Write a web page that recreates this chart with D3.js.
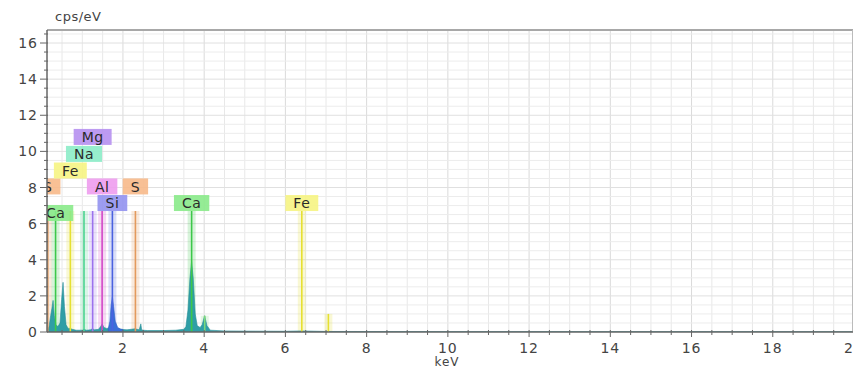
<!DOCTYPE html>
<html><head><meta charset="utf-8">
<script src="https://cdn.jsdelivr.net/npm/d3@7/dist/d3.min.js"></script>
<style>
body{margin:0;background:#fff;}
svg{display:block;}
text{font-family:"DejaVu Sans",Verdana,sans-serif;}
</style></head>
<body><svg id="c" width="853" height="370"></svg>
<script>
// ---- data ----
const xTicks = [2,4,6,8,10,12,14,16,18,20];
const yTicks = [0,2,4,6,8,10,12,14,16];
const xLabel = "keV";
const yLabel = "cps/eV";

// spectrum (keV, cps/eV)
const specE = [0.13,0.18,0.22,0.25,0.28,0.31,0.35,0.40,0.45,0.49,0.525,0.56,0.60,0.65,0.70,0.75,0.85,1.00,1.04,1.10,1.20,1.25,1.30,1.40,1.45,1.49,1.53,1.60,1.66,2.00,2.10,2.20,2.30,2.40,2.44,2.46,2.50,2.60,3.00,3.30,3.50,3.55,3.60,3.65,3.69,3.73,3.78,3.83,3.90,3.95,4.01,4.07,4.15,4.50,5.00,6.00,6.40,7.00,10.0,20.0];
const specC = [0.00,0.30,0.90,1.30,1.75,0.90,0.40,0.30,0.50,1.80,2.75,1.40,0.40,0.20,0.20,0.15,0.10,0.10,0.15,0.10,0.12,0.18,0.12,0.15,0.30,0.45,0.25,0.20,0.22,0.14,0.12,0.15,0.18,0.12,0.45,0.12,0.10,0.08,0.08,0.10,0.15,0.30,1.20,3.00,3.90,3.00,1.00,0.35,0.25,0.40,0.90,0.35,0.10,0.06,0.05,0.04,0.06,0.03,0.02,0.01];
// Si peak (drawn in its own colour)
const siE = [1.64,1.68,1.71,1.74,1.77,1.81,1.87,1.95,2.00];
const siC = [0.20,0.60,1.50,1.95,1.40,0.60,0.25,0.15,0.14];

// element marker lines
const markName  = ["S","Ca","Fe","Na","Mg","Al","Si","S","Ca","Ca","Fe","Fe"];
const markE     = [0.149,0.341,0.705,1.041,1.254,1.487,1.740,2.307,3.691,4.013,6.404,7.058];
const markTop   = [6.7,6.7,6.7,6.7,6.7,6.7,6.7,6.7,6.7,0.9,6.7,1.0];
const markLabel = [8.06,6.59,8.94,9.86,10.8,8.06,7.14,8.06,7.14,null,7.14,null];
const markLine  = ["#e39a5c","#3cc84a","#e6e030","#4cd490","#9c72ee","#d448c8","#4a62e0","#e39a5c","#3cc84a","#7ad87a","#e6e030","#e6e030"];
const markBox   = ["#f7b98a","#8aea8a","#f6f483","#8cecc8","#b690f0","#ee9cee","#9292f0","#f7b98a","#8aea8a",null,"#f6f483",null];

// ---- layout ----
const svg = d3.select("#c");
const L = 47, R = 853, T = 30, B = 332;
const x = d3.scaleLinear().domain([0.13,20]).range([L,854]);
const y = d3.scaleLinear().domain([0,16.72]).range([B,T]);

svg.append("defs").append("clipPath").attr("id","clip")
  .append("rect").attr("x",L).attr("y",T).attr("width",R-L).attr("height",B-T);

// grid
const g = svg.append("g");
const xGrid = d3.range(0.5,20.01,0.5);
const yGrid = d3.range(0.5,16.7,0.5);
g.selectAll(".vg").data(xGrid).join("line")
  .attr("x1",d=>x(d)).attr("x2",d=>x(d)).attr("y1",T).attr("y2",B)
  .attr("stroke",d=>d%2===0?"#dadada":"#e8e8e8").attr("stroke-width",1);
g.selectAll(".hg").data(yGrid).join("line")
  .attr("x1",L).attr("x2",R).attr("y1",d=>y(d)).attr("y2",d=>y(d))
  .attr("stroke",d=>d%2===0?"#e0e0e0":"#ececec").attr("stroke-width",1);

const plot = svg.append("g").attr("clip-path","url(#clip)");

// marker bands + lines
const marks = markE.map((e,i)=>({e,i}));
plot.selectAll(".band").data(marks).join("line")
  .attr("x1",d=>x(d.e)).attr("x2",d=>x(d.e)).attr("y1",y(0)).attr("y2",d=>y(markTop[d.i]))
  .attr("stroke",d=>markLine[d.i]).attr("stroke-width",8).attr("opacity",0.2);

// spectrum
const area = d3.area().x(d=>x(d[0])).y0(y(0)).y1(d=>y(d[1]));
plot.append("path").datum(specE.map((e,i)=>[e,specC[i]]))
  .attr("d",area).attr("fill","#2f9ea6").attr("stroke","#2a8f98").attr("stroke-width",0.6);
plot.append("path").datum(siE.map((e,i)=>[e,siC[i]]))
  .attr("d",area).attr("fill","#3a6fd8").attr("stroke","#2f5fc8").attr("stroke-width",0.6);

plot.selectAll(".ml").data(marks).join("line")
  .attr("x1",d=>x(d.e)).attr("x2",d=>x(d.e)).attr("y1",y(0)).attr("y2",d=>y(markTop[d.i]))
  .attr("stroke",d=>markLine[d.i]).attr("stroke-width",1.6);

// labels
const lab = plot.selectAll(".lab").data(marks.filter(d=>markLabel[d.i]!==null)).join("g")
  .attr("transform",d=>`translate(${x(d.e)},${y(markLabel[d.i])})`);
lab.append("rect").attr("fill",d=>markBox[d.i]).attr("opacity",0.9);
lab.append("text").text(d=>markName[d.i]).attr("text-anchor","middle").attr("dy","0.37em")
  .attr("font-size",14).attr("letter-spacing",0.5).attr("fill","#2a2a2a");
lab.each(function(){
  const gg = d3.select(this);
  const w = gg.select("text").node().getComputedTextLength() + 16;
  gg.select("rect").attr("x",-w/2).attr("y",-8).attr("width",w).attr("height",16);
});

// frame
svg.append("line").attr("x1",L).attr("x2",R).attr("y1",T).attr("y2",T).attr("stroke","#a8a8a8").attr("stroke-width",2);
svg.append("line").attr("x1",R-0.5).attr("x2",R-0.5).attr("y1",T).attr("y2",B).attr("stroke","#bbbbbb").attr("stroke-width",1);

// axes
const xAx = svg.append("g").attr("transform",`translate(0,${B})`);
xAx.append("line").attr("x1",L).attr("x2",R).attr("stroke","#666").attr("stroke-width",1.5);
xAx.selectAll(".mt").data(xGrid.filter(d=>d>0.13)).join("line")
  .attr("x1",d=>x(d)).attr("x2",d=>x(d)).attr("y1",-2).attr("y2",d=>d%2===0?5:3)
  .attr("stroke","#666");
xAx.selectAll(".tl").data(xTicks).join("text")
  .attr("x",d=>x(d)).attr("y",21).attr("text-anchor","middle").attr("font-size",14).attr("letter-spacing",1).attr("fill","#444")
  .text(d=>d);
svg.append("text").attr("x",447).attr("y",366).attr("text-anchor","middle").attr("font-size",12).attr("letter-spacing",1).attr("fill","#444").text(xLabel);

const yAx = svg.append("g");
yAx.append("line").attr("x1",L).attr("x2",L).attr("y1",T).attr("y2",B).attr("stroke","#666").attr("stroke-width",1.5);
yAx.selectAll(".ymt").data([0].concat(yGrid)).join("line")
  .attr("x1",d=>L-(d%2===0?7:3)).attr("x2",L+1).attr("y1",d=>y(d)).attr("y2",d=>y(d))
  .attr("stroke","#666");
yAx.selectAll(".ytl").data(yTicks).join("text")
  .attr("x",38).attr("y",d=>y(d)).attr("dy","0.36em").attr("text-anchor","end").attr("font-size",14).attr("letter-spacing",1).attr("fill","#444")
  .text(d=>d);
svg.append("text").attr("x",55).attr("y",21).attr("font-size",13).attr("letter-spacing",0.5).attr("fill","#444").text(yLabel);
</script></body></html>
